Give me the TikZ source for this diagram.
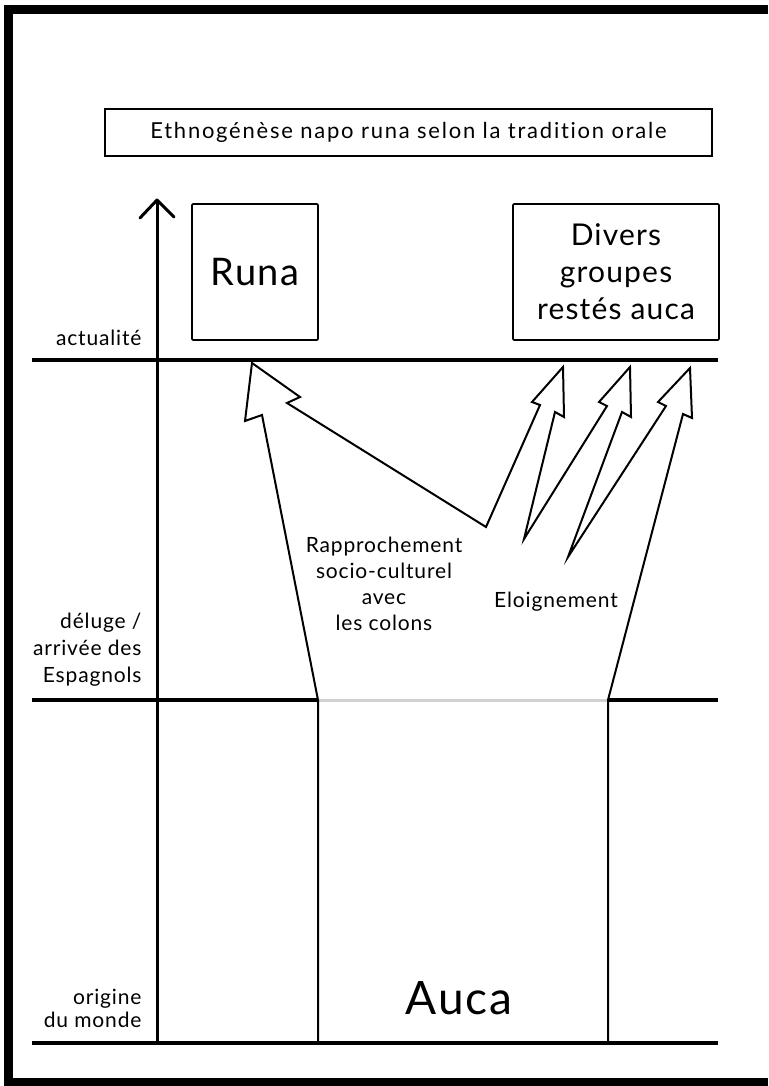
\documentclass[tikz,border=0pt]{standalone}
\usepackage{fontspec}
\setmainfont{Lato}[LetterSpace=4, Ligatures=CommonOff]
\newfontfamily\titlefont{Lato}[LetterSpace=8, Ligatures=CommonOff]
\usepackage{tikz}

\tikzset{
  period/.style={line width=3.5pt},
  boxnode/.style={draw, line width=1.6pt, rounded corners=1pt, align=center, inner sep=0pt},
  datelabel/.style={align=right, anchor=east, font=\fontsize{21}{26}\selectfont},
  flowlabel/.style={align=center, font=\fontsize{21}{26}\selectfont}
}

\begin{document}
\begin{tikzpicture}[x=1pt, y=-1pt]
    \useasboundingbox (0,0) rectangle (768,1086);
    % Frame
    \fill (4,5) rectangle (768,14);
    \fill (4,5) rectangle (13,1086);
    \fill (4,1078) rectangle (768,1086);

    % Title
    \node[boxnode, line width=1.2pt, rounded corners=0pt, minimum width=607pt, minimum height=47pt,
          font=\titlefont\fontsize{22}{24}\selectfont] (title) at (408.5,132.5) {Ethnogénèse napo runa selon la tradition orale};

    % Time axis
    \coordinate (axisbot) at (157,1043);
    \coordinate (axistop) at (157,200);
    \draw[line width=3pt] (axisbot) -- (axistop);
    \draw[line width=3pt, line cap=round, line join=round] (140,218) -- (axistop) -- (174,217);

    % Periods
    \draw[period] (32,360) -- (718,360);
    \draw[period] (32,700) -- (318,700);
    \draw[period, black!18, line width=3pt] (318,700) -- (608,700);
    \draw[period] (608,700) -- (718,700);
    \draw[period] (32,1043) -- (718,1043);

    % Period labels
    \node[datelabel] (now) at (145,338) {actualité};
    \node[datelabel, font=\fontsize{21}{27}\selectfont] (flood) at (145,650) {déluge /\\arrivée des\\Espagnols};
    \node[datelabel, font=\fontsize{21}{23}\selectfont] (origin) at (145,1008) {origine\\du monde};

    % Groups
    \node[boxnode, minimum width=126pt, minimum height=136pt, font=\fontsize{38}{40}\selectfont] (runa) at (255,272) {Runa};
    \node[boxnode, minimum width=206pt, minimum height=136pt, font=\fontsize{30}{37}\selectfont] (divers) at (616,272) {Divers\\groupes\\restés auca};
    \node[font=\fontsize{46}{48}\selectfont] (auca) at (459,998) {Auca};

    % Flows out of the Auca
    \draw[line width=2pt, line join=miter]
        (318,1043) -- (318,700) -- (262,415) -- (245,421) -- (252,363) -- (300,397) -- (287,403)
        -- (486,527) -- (540,405) -- (532,402) -- (563,367) -- (564,417) -- (555,412)
        -- (524,539) -- (607,406) -- (599,402) -- (630,367) -- (631,417) -- (622,412)
        -- (568,557) -- (666,406) -- (658,402) -- (690,368) -- (692,418) -- (683,414)
        -- (608,700) -- (608,1043);

    % Flow labels
    \node[flowlabel] (closer) at (384,584) {Rapprochement\\socio-culturel\\avec\\les colons};
    \node[flowlabel] (away) at (556,602) {Eloignement};
\end{tikzpicture}
\end{document}
